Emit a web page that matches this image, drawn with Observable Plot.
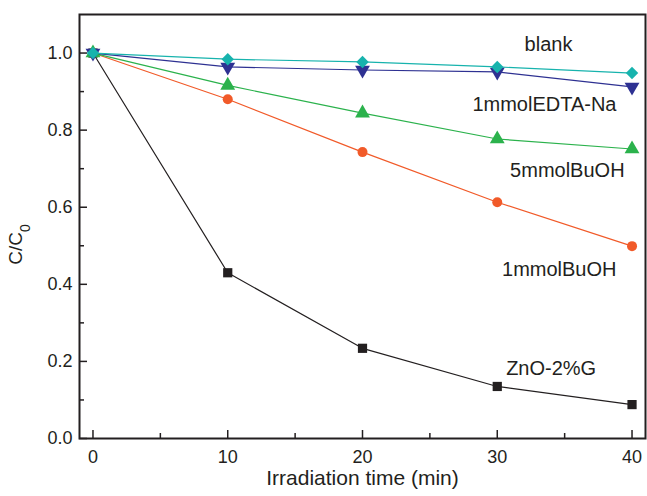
<!DOCTYPE html>
<html><head><meta charset="utf-8">
<script src="https://cdn.jsdelivr.net/npm/d3@7"></script>
<script src="https://cdn.jsdelivr.net/npm/@observablehq/plot@0.6"></script>
<style>body{margin:0;background:#fff;font-family:"Liberation Sans",Arial,sans-serif}</style>
</head><body><div id="chart"></div>
<script>
const times = [0, 10, 20, 30, 40];
const seriesNames = ["ZnO-2%G", "1mmolBuOH", "5mmolBuOH", "1mmolEDTA-Na", "blank"];
const znoValues = [1.0, 0.43, 0.234, 0.135, 0.088];
const buoh1Values = [1.0, 0.880, 0.743, 0.613, 0.499];
const buoh5Values = [1.0, 0.916, 0.844, 0.777, 0.751];
const edtaValues = [1.0, 0.964, 0.956, 0.951, 0.912];
const blankValues = [1.0, 0.984, 0.977, 0.964, 0.948];
const colors = ["#231f20", "#f15a29", "#2bb24c", "#2e3192", "#17b3ad"];
const symbols = ["square", "circle", "triangle", "triangle", "diamond2"];
const rotations = [0, 0, 0, 180, 0];
const sizes = [5.2, 5, 5.5, 5.5, 5.6];
const labelX = [34.0, 34.6, 35.2, 33.5, 33.8];
const labelY = [0.182, 0.439, 0.694, 0.865, 1.021];
const xTicks = [0, 10, 20, 30, 40];
const yTicks = [0.0, 0.2, 0.4, 0.6, 0.8, 1.0];
const xMinor = [5, 15, 25, 35];
const yMinor = [0.1, 0.3, 0.5, 0.7, 0.9];

const allValues = [znoValues, buoh1Values, buoh5Values, edtaValues, blankValues];
const data = [];
seriesNames.forEach((s, i) => times.forEach((t, j) => data.push({series: s, idx: i, t, v: allValues[i][j]})));
const labels = seriesNames.map((s, i) => ({series: s, x: labelX[i], y: labelY[i]}));

const marks = [];
seriesNames.forEach((s, i) => {
  const d = data.filter(e => e.idx === i);
  marks.push(Plot.line(d, {x: "t", y: "v", stroke: colors[i], strokeWidth: 1.2}));
});
seriesNames.forEach((s, i) => {
  const d = data.filter(e => e.idx === i);
  marks.push(Plot.dot(d, {x: "t", y: "v", fill: colors[i], stroke: "none", symbol: () => symbols[i], rotate: rotations[i], r: sizes[i]}));
});

const chart = Plot.plot({
  width: 647, height: 496,
  marginLeft: 79, marginRight: 2, marginTop: 14, marginBottom: 58,
  style: {fontFamily: "Liberation Sans, Arial, sans-serif", fontSize: "18px", color: "#231f20", background: "#fff"},
  symbol: {type: "identity"},
  x: {domain: [-1, 41]},
  y: {domain: [0, 1.1]},
  marks: [
    Plot.axisX(xMinor, {tickSize: -5, text: null, stroke: "#231f20", strokeWidth: 1.5, label: null}),
    Plot.axisX(xTicks, {tickSize: -8, tickPadding: 20, tickFormat: d => d, stroke: "#231f20", strokeWidth: 1.5, fontSize: 18, label: null}),
    Plot.axisY(yMinor, {tickSize: -5, text: null, stroke: "#231f20", strokeWidth: 1.5, label: null}),
    Plot.axisY(yTicks, {tickSize: -8, tickPadding: 15, tickFormat: d => d.toFixed(1), stroke: "#231f20", strokeWidth: 1.5, fontSize: 18, label: null}),
    Plot.frame({stroke: "#231f20", strokeWidth: 2}),
    ...marks,
    Plot.text(labels, {x: "x", y: "y", text: "series", fontSize: 20, fill: "#231f20"}),
    Plot.text(["Irradiation time (min)"], {frameAnchor: "bottom", dy: 46, fontSize: 21, fill: "#231f20"}),
    Plot.text(["C/C0"], {frameAnchor: "left", dx: -58, rotate: -90, textAnchor: "middle", fontSize: 19, fill: "#231f20", className: "ylab"})
  ]
});
const ylg = chart.querySelector("g.ylab");
const yl = chart.querySelector(".ylab text");
if (yl) {
  if (ylg) ylg.removeAttribute("transform");
  yl.removeAttribute("x");
  yl.removeAttribute("y");
  yl.setAttribute("text-anchor", "middle");
  yl.setAttribute("transform", "translate(22,244.5) rotate(-90)");
  yl.textContent = "";
  const a = document.createElementNS("http://www.w3.org/2000/svg", "tspan");
  a.textContent = "C/C";
  const b = document.createElementNS("http://www.w3.org/2000/svg", "tspan");
  b.textContent = "0";
  b.setAttribute("font-size", "14");
  b.setAttribute("dy", "8");
  yl.append(a, b);
}
document.getElementById("chart").append(chart);
</script></body></html>
